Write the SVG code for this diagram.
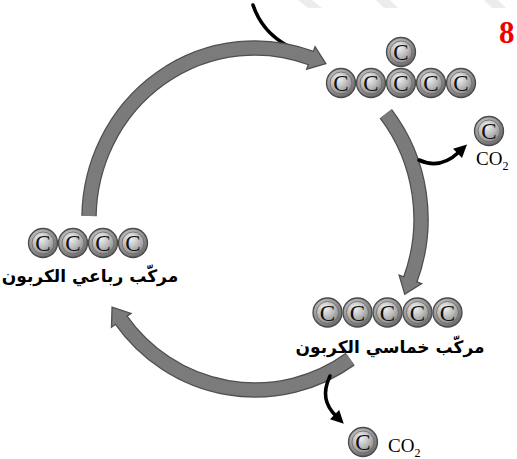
<svg xmlns="http://www.w3.org/2000/svg" xmlns:xlink="http://www.w3.org/1999/xlink" width="517" height="459" viewBox="0 0 517 459">
<style>
.shO{fill:none;stroke:#4f4f4f;stroke-width:15.5}
.shI{fill:none;stroke:#7b7b7b;stroke-width:13;marker-end:url(#grayHead)}
.blk{fill:none;stroke:#000;stroke-width:3.6;stroke-linecap:round}
.c{font-family:"Liberation Serif","Times New Roman",serif;font-size:23px;fill:#111;text-anchor:middle}
.co2{font-family:"Liberation Serif","Times New Roman",serif;font-size:19px;fill:#000}
.sub{font-size:12px}
.ar{font-family:"DejaVu Sans",sans-serif;font-weight:bold;font-size:17px;fill:#000;text-anchor:middle}
.stripe{fill:#ececec}
</style>
<defs>
<radialGradient id="gO" cx="0.4" cy="0.35" r="0.7">
<stop offset="0" stop-color="#dcdcdc"/>
<stop offset="0.6" stop-color="#979797"/>
<stop offset="1" stop-color="#626262"/>
</radialGradient>
<radialGradient id="gI" cx="0.4" cy="0.3" r="0.75">
<stop offset="0" stop-color="#f2f2f2"/>
<stop offset="0.55" stop-color="#bbbbbb"/>
<stop offset="1" stop-color="#858585"/>
</radialGradient>
<g id="ball">
<circle r="14.5" fill="url(#gO)" stroke="#4a4a4a" stroke-width="1.3"/>
<circle r="11" fill="url(#gI)" stroke="#666" stroke-width="0.8"/>
</g>
<marker id="grayHead" markerUnits="userSpaceOnUse" orient="auto" refX="1" refY="0" markerWidth="20" markerHeight="30" overflow="visible">
<path d="M0,-6.5 L0,-12 L16,0 L0,12 L0,6.5" fill="#7b7b7b" stroke="#4f4f4f" stroke-width="1.3" stroke-linejoin="miter"/>
</marker>
<marker id="blackHead" markerUnits="userSpaceOnUse" orient="auto" refX="2" refY="0" markerWidth="16" markerHeight="16" overflow="visible">
<path d="M0,-6.5 L13,0 L0,6.5 z" fill="#000"/>
</marker>
</defs>

<rect width="517" height="459" fill="#fff"/>
<polygon class="stripe" points="298,0 312,0 322,8 308,8"/>
<polygon class="stripe" points="376,0 390,0 398,8 384,8"/>
<polygon class="stripe" points="484,0 498,0 506,8 492,8"/>

<g id="connectors">
<path class="blk" d="M253,5 Q262,32 288,46"/>
<path class="shO" d="M89,216 A166,171 0 0,1 311.8,58.3"/>
<path class="shI" d="M89,216 A166,171 0 0,1 311.8,58.3"/>
<path class="shO" d="M385.8,113.7 A166,171 0 0,1 410,280.3"/>
<path class="shI" d="M385.8,113.7 A166,171 0 0,1 410,280.3"/>
<path class="shO" d="M350.2,359.1 A166,171 0 0,1 120.7,319.5"/>
<path class="shI" d="M350.2,359.1 A166,171 0 0,1 120.7,319.5"/>
<path class="blk" d="M419,160 Q440,170 459,152" marker-end="url(#blackHead)"/>
<path class="blk" d="M330,376 C322,393 325,405 336,416" marker-end="url(#blackHead)"/>
</g>

<g id="node-c6">
<use xlink:href="#ball" x="401" y="52"/>
<use xlink:href="#ball" x="341" y="83"/>
<use xlink:href="#ball" x="371" y="83"/>
<use xlink:href="#ball" x="401" y="83"/>
<use xlink:href="#ball" x="431" y="83"/>
<use xlink:href="#ball" x="461" y="83"/>
<text class="c" x="401" y="60">C</text>
<text class="c" x="341" y="91">C</text>
<text class="c" x="371" y="91">C</text>
<text class="c" x="401" y="91">C</text>
<text class="c" x="431" y="91">C</text>
<text class="c" x="461" y="91">C</text>
</g>

<g id="node-co2-right">
<use xlink:href="#ball" x="489" y="131"/>
<text class="c" x="489" y="139">C</text>
<text class="co2" x="476" y="165">CO<tspan class="sub" dy="5">2</tspan></text>
</g>

<g id="node-c4">
<use xlink:href="#ball" x="43" y="243"/>
<use xlink:href="#ball" x="73" y="243"/>
<use xlink:href="#ball" x="103" y="243"/>
<use xlink:href="#ball" x="133" y="243"/>
<text class="c" x="43" y="251">C</text>
<text class="c" x="73" y="251">C</text>
<text class="c" x="103" y="251">C</text>
<text class="c" x="133" y="251">C</text>
<text class="ar" x="90" y="282">مركّب رباعي الكربون</text>
</g>

<g id="node-c5">
<use xlink:href="#ball" x="327.5" y="312.5"/>
<use xlink:href="#ball" x="357.5" y="312.5"/>
<use xlink:href="#ball" x="387.5" y="312.5"/>
<use xlink:href="#ball" x="417.5" y="312.5"/>
<use xlink:href="#ball" x="447.5" y="312.5"/>
<text class="c" x="327.5" y="320.5">C</text>
<text class="c" x="357.5" y="320.5">C</text>
<text class="c" x="387.5" y="320.5">C</text>
<text class="c" x="417.5" y="320.5">C</text>
<text class="c" x="447.5" y="320.5">C</text>
<text class="ar" x="390" y="353">مركّب خماسي الكربون</text>
</g>

<g id="node-co2-bottom">
<use xlink:href="#ball" x="363" y="442"/>
<text class="c" x="363" y="450">C</text>
<text class="co2" x="388" y="452">CO<tspan class="sub" dy="5">2</tspan></text>
</g>

<text x="499" y="43" font-family="Liberation Serif, serif" font-weight="bold" font-size="31" fill="#ee0000">8</text>
</svg>
